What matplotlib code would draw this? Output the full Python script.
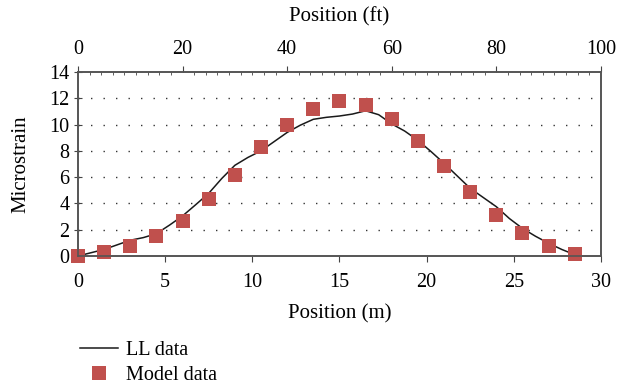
import matplotlib.pyplot as plt
from matplotlib.ticker import MultipleLocator

# model data (m, microstrain)
model_x = [0, 1.5, 3, 4.5, 6, 7.5, 9, 10.5, 12, 13.5, 15, 16.5, 18, 19.5, 21, 22.5, 24, 25.5, 27, 28.5]
model_y = [0.0, 0.3, 0.76, 1.5, 2.64, 4.3, 6.2, 8.27, 9.95, 11.16, 11.77, 11.47, 10.4, 8.72, 6.82, 4.85, 3.1, 1.73, 0.74, 0.13]

# LL data
ll_x = [0, 0.75, 1.5, 2.25, 3, 3.75, 4.5, 5.25, 6, 6.75, 7.5, 8.25, 9, 9.75, 10.5, 11.25, 12, 12.75, 13.5, 14.25,
        15, 15.75, 16.5, 17.25, 18, 18.75, 19.5, 20.25, 21, 21.75, 22.5, 23.25, 24, 24.75, 25.5, 26.25, 27, 27.75, 28.5]
ll_y = [0.0, 0.25, 0.5, 0.85, 1.2, 1.4, 1.7, 2.35, 3.05, 3.9, 4.77, 5.9, 6.9, 7.5, 8.0, 8.7, 9.4, 9.95, 10.4, 10.55,
        10.65, 10.8, 11.05, 10.75, 10.05, 9.5, 8.8, 7.95, 7.05, 6.1, 5.15, 4.45, 3.75, 2.85, 2.1, 1.5, 0.97, 0.5, 0.1]

plt.rcParams['font.family'] = ['Liberation Serif', 'DejaVu Serif']

fig = plt.figure(figsize=(6.24, 3.87), dpi=100)
ax = fig.add_axes([0.125, 0.3385, 0.838, 0.4755])

line, = ax.plot(ll_x, ll_y, color='#1a1a1a', lw=1.1, label='LL data')
pts, = ax.plot(model_x, model_y, ls='none', marker='s', ms=9.5, color='#c0504d',
               markeredgewidth=0, label='Model data', clip_on=False, zorder=3)

ax.set_xlim(0, 30)
ax.set_ylim(0, 14)
ax.xaxis.set_major_locator(MultipleLocator(5))
ax.yaxis.set_major_locator(MultipleLocator(2))
for y in range(2, 14, 2):
    ax.axhline(y, color='#333333', lw=1.0, ls=(0, (1, 8)), zorder=0)
ax.set_xlabel('Position (m)', fontsize=15, labelpad=9)
ax.set_ylabel('Microstrain', fontsize=15, labelpad=14)
ax.tick_params(axis='both', direction='out', length=4, color='#444444', labelsize=14.5)
ax.tick_params(axis='x', pad=8)
ax.tick_params(axis='y', direction='inout', length=6, pad=3)
for s in ax.spines.values():
    s.set_color('#555555')
    s.set_linewidth(1.2)

top = ax.twiny()
top.set_xlim(0, 100)
top.xaxis.set_major_locator(MultipleLocator(20))
top.xaxis.set_minor_locator(MultipleLocator(20 / 9))
top.tick_params(axis='x', which='major', direction='out', length=4, color='#444444', labelsize=14.5, pad=5)
top.tick_params(axis='x', which='minor', direction='in', length=2.5, color='#444444')
top.set_xlabel('Position (ft)', fontsize=15, labelpad=14)
for s in top.spines.values():
    s.set_color('#555555')
    s.set_linewidth(1.2)

fig.legend(handles=[line, pts], loc='upper left', bbox_to_anchor=(0.115, 0.14), frameon=False,
           fontsize=14.5, handlelength=1.9, handletextpad=0.4, labelspacing=0.3, borderaxespad=0)

fig.savefig('out.png', dpi=100)
